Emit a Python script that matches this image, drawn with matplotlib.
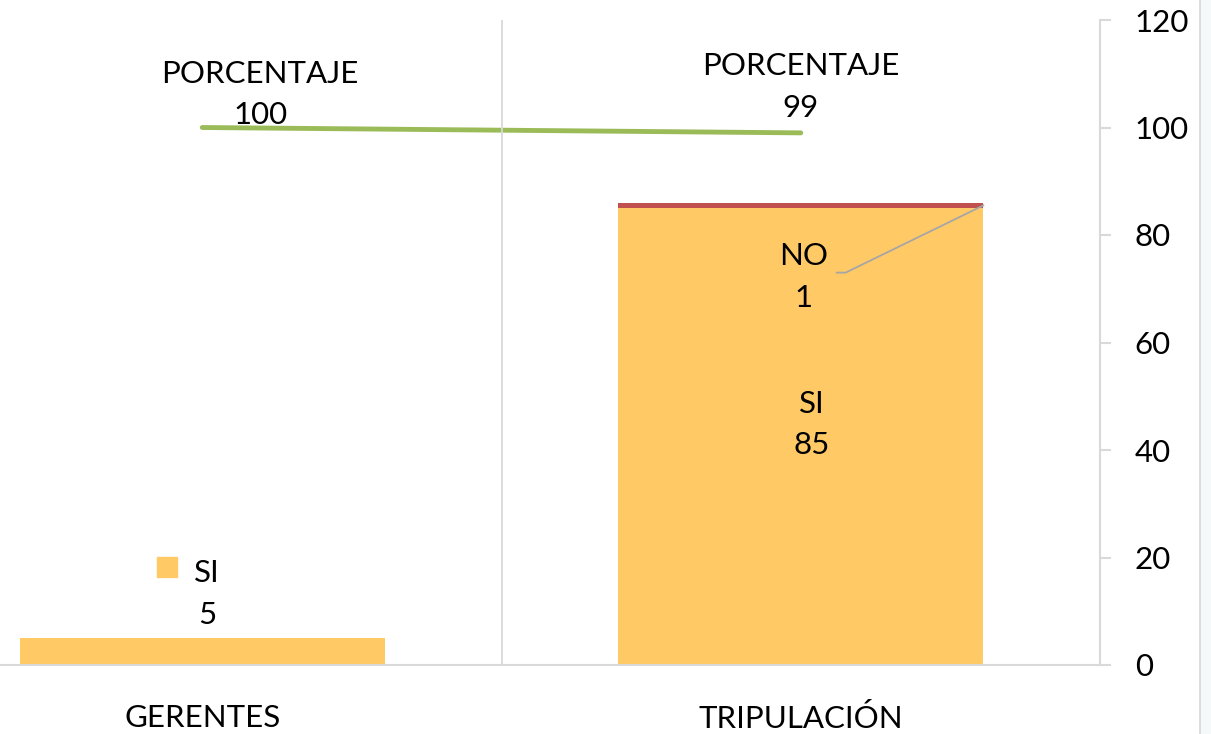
import matplotlib
matplotlib.use("Agg")
import matplotlib.pyplot as plt
from matplotlib.transforms import offset_copy
from matplotlib.lines import Line2D

plt.rcParams['font.family'] = ['Lato', 'DejaVu Sans']

categories = ["GERENTES", "TRIPULACIÓN"]
si = [5, 85]
no = [0, 1]
porcentaje = [100, 99]

c_si = "#FFCA66"
c_no = "#C0504D"
c_line = "#9BBB59"
c_grid = "#D9D9D9"
fs = 22.5
ls = 1.6

fig = plt.figure(figsize=(12.11, 7.34), dpi=100)
W, H = 1211, 734
ax = fig.add_axes([0, (H - 665) / H, 1100 / W, (665 - 20) / H])

x = range(len(categories))
ax.bar(x, si, width=0.61, color=c_si)
ax.bar(x, no, width=0.61, bottom=si, color=c_no)
ax.plot(x, porcentaje, color=c_line, lw=3.5, solid_capstyle='round')

ax.set_xlim(-0.338, 1.5)
ax.set_ylim(0, 120)
ax.axvline(0.5, color=c_grid, lw=1.3)

# axes styling
for s in ["top", "left"]:
    ax.spines[s].set_visible(False)
for s in ["right", "bottom"]:
    ax.spines[s].set_color(c_grid)
    ax.spines[s].set_linewidth(1.5)
ax.yaxis.tick_right()
ax.set_yticks(range(0, 121, 20))
ax.tick_params(axis='y', direction='out', length=8, width=1.5, color=c_grid,
               pad=17, labelsize=fs)
ax.set_xticks(list(x))
ax.set_xticklabels(categories)
ax.tick_params(axis='x', length=0, pad=28, labelsize=fs)

# line labels
offs = [(58, -2), (0, 11)]
for i, v in enumerate(porcentaje):
    ax.annotate("PORCENTAJE\n%d" % v, (i, v), xytext=offs[i],
                textcoords='offset pixels', ha='center', va='bottom',
                fontsize=fs, linespacing=ls)

# bar labels
ax.annotate("SI\n%d" % si[0], (0, si[0]), xytext=(5, 9),
            textcoords='offset pixels', ha='center', va='bottom',
            fontsize=fs, linespacing=ls)
ax.plot([0], [si[0]], marker='s', ms=15, color=c_si, clip_on=False,
        transform=offset_copy(ax.transData, fig, x=-35, y=71, units='dots'))

ax.annotate("SI\n%d" % si[1], (1, si[1] / 2), xytext=(11, 12),
            textcoords='offset pixels', ha='center', va='center',
            fontsize=fs, linespacing=ls)
ax.annotate("NO\n%d" % no[1], (1, 73), xytext=(3, -4),
            textcoords='offset pixels', ha='center', va='center',
            fontsize=fs, linespacing=ls)
ax.plot([1.06, 1.075, 1.305], [73, 73, si[1] + no[1] / 2],
        color="#A6A6A6", lw=1.3)

# right border line
fig.add_artist(Line2D([1200 / W, 1200 / W], [0, 1], color=c_grid, lw=1.3))
fig.patches.append(plt.Rectangle((1201 / W, 0), 10 / W, 1, transform=fig.transFigure,
                                 color="#F6F9F9", zorder=-1))

fig.savefig("out.png", dpi=100)
